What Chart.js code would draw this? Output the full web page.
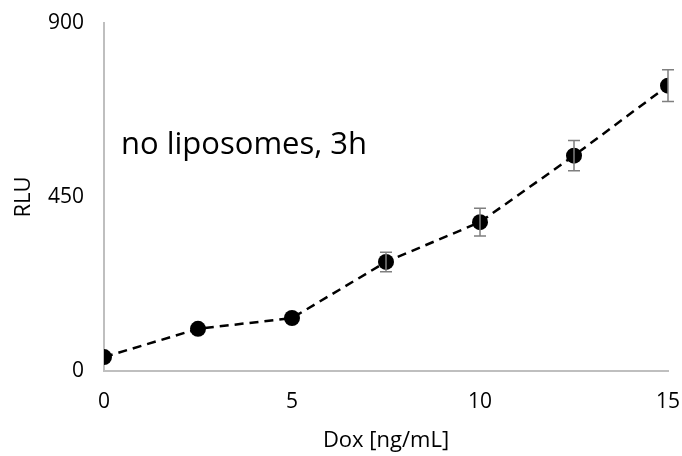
<!DOCTYPE html>
<html>
<head>
<meta charset="utf-8">
<script src="https://cdn.jsdelivr.net/npm/chart.js@4"></script>
<style>
  html, body { margin: 0; padding: 0; background: #fff; }
  #wrap { width: 682px; height: 456px; }
</style>
</head>
<body>
<div id="wrap"><canvas id="rluChart" width="682" height="456"></canvas></div>
<script>
// values
const doses = [0, 2.5, 5, 7.5, 10, 12.5, 15];
const rlu = [36, 109, 137, 282, 385, 557, 738];
const rluErr = [0, 0, 0, 25, 36, 39, 41];
const xTicks = [0, 5, 10, 15];
const yTicks = [0, 450, 900];

const fontFamily = "'Open Sans', 'Noto Sans', sans-serif";

const errorBars = {
    id: 'errorBars',
    afterDatasetsDraw(chart) {
        const ctx = chart.ctx;
        const xs = chart.scales.x;
        const ys = chart.scales.y;
        ctx.save();
        ctx.strokeStyle = '#7f7f7f';
        ctx.lineWidth = 1.5;
        doses.forEach((d, i) => {
            if (!rluErr[i]) return;
            const px = xs.getPixelForValue(d);
            const top = ys.getPixelForValue(rlu[i] + rluErr[i]);
            const bot = ys.getPixelForValue(rlu[i] - rluErr[i]);
            ctx.beginPath();
            ctx.moveTo(px, top); ctx.lineTo(px, bot);
            ctx.moveTo(px - 6, top); ctx.lineTo(px + 6, top);
            ctx.moveTo(px - 6, bot); ctx.lineTo(px + 6, bot);
            ctx.stroke();
        });
        ctx.restore();
    }
};

const noteText = {
    id: 'noteText',
    afterDraw(chart) {
        const ctx = chart.ctx;
        ctx.save();
        ctx.fillStyle = '#000';
        ctx.font = '31px ' + fontFamily;
        ctx.textBaseline = 'alphabetic';
        ctx.fillText('no liposomes, 3h', chart.chartArea.left + 17, 154);
        ctx.restore();
    }
};

const ctx = document.getElementById('rluChart').getContext('2d');
new Chart(ctx, {
    type: 'line',
    data: {
        datasets: [{
            data: doses.map((d, i) => ({ x: d, y: rlu[i] })),
            borderColor: '#000',
            backgroundColor: '#000',
            borderWidth: 2.5,
            borderDash: [9, 6],
            pointRadius: 8,
            pointHoverRadius: 8,
            pointBorderWidth: 0,
            tension: 0,
            fill: false
        }]
    },
    options: {
        responsive: false,
        animation: false,
        layout: { padding: { top: 23, right: 14, left: 0, bottom: 0 } },
        plugins: { legend: { display: false }, tooltip: { enabled: false } },
        scales: {
            x: {
                type: 'linear',
                min: 0, max: 15,
                afterBuildTicks: axis => { axis.ticks = xTicks.map(v => ({ value: v })); },
                afterFit: axis => { axis.height = 85; axis.paddingLeft = 0; axis.paddingRight = 0; },
                grid: { display: false, drawTicks: false },
                border: { color: '#bfbfbf', width: 2 },
                ticks: { color: '#000', font: { family: fontFamily, size: 21 }, padding: 18, maxRotation: 0 },
                title: { display: true, text: 'Dox [ng/mL]', color: '#000', font: { family: fontFamily, size: 22 }, padding: { top: 4, bottom: 2 } }
            },
            y: {
                min: 0, max: 900,
                afterBuildTicks: axis => { axis.ticks = yTicks.map(v => ({ value: v })); },
                afterFit: axis => { axis.width = 104; axis.paddingTop = 0; axis.paddingBottom = 0; },
                grid: { display: false, drawTicks: false },
                border: { color: '#bfbfbf', width: 2 },
                ticks: { color: '#000', font: { family: fontFamily, size: 21 }, padding: 20 },
                title: { display: true, text: 'RLU', color: '#000', font: { family: fontFamily, size: 22 }, padding: { top: 11, bottom: 4 } }
            }
        }
    },
    plugins: [errorBars, noteText]
});
</script>
</body>
</html>
